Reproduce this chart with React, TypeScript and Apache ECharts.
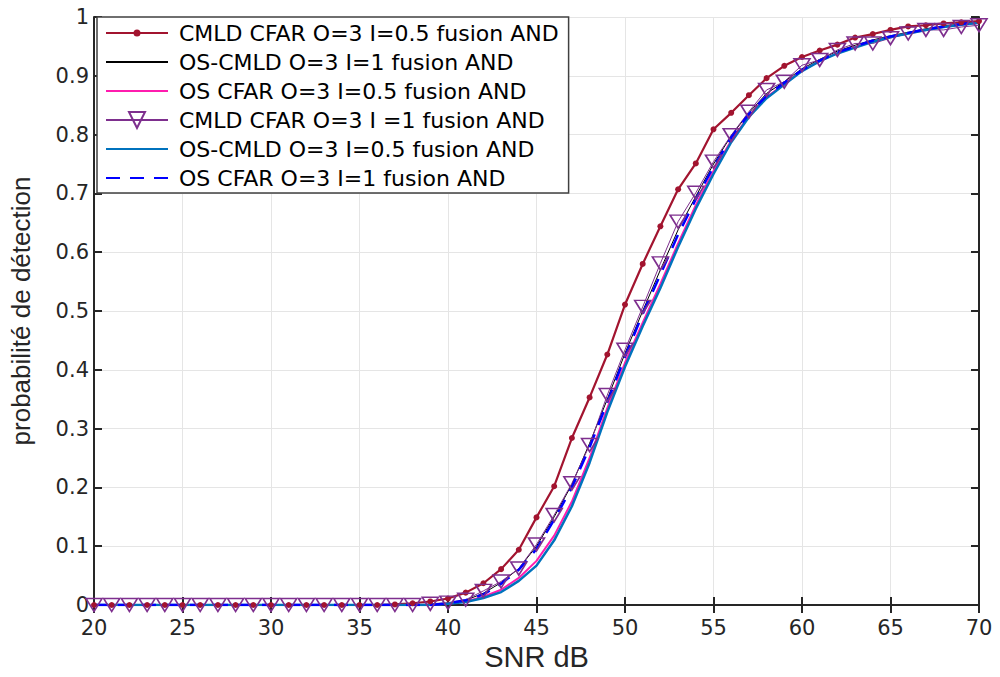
import React, { useEffect, useRef } from "react";
import * as echarts from "echarts";

const snr: number[] = [];
for (let v = 20; v <= 70; v++) snr.push(v);

const zeros = (n: number) => new Array(n).fill(0);

// values from 20 dB .. 70 dB
const cmld05: number[] = [
  ...zeros(17), // 20..36
  0.001, 0.003, 0.006, 0.011, 0.021, 0.037, 0.061, 0.094, 0.149, 0.202,
  0.284, 0.353, 0.426, 0.511, 0.58, 0.644, 0.707, 0.751, 0.809, 0.837,
  0.867, 0.896, 0.917, 0.932, 0.943, 0.953, 0.965, 0.971, 0.978, 0.984,
  0.986, 0.989, 0.991, 0.993,
];
const oscmld1: number[] = [
  ...zeros(20), // 20..39
  0.003, 0.008, 0.02, 0.038, 0.062, 0.1, 0.15, 0.205, 0.275, 0.35,
  0.428, 0.5, 0.57, 0.638, 0.695, 0.75, 0.798, 0.837, 0.87, 0.89,
  0.912, 0.928, 0.942, 0.952, 0.961, 0.968, 0.974, 0.98, 0.985, 0.988,
  0.991,
];
const os05: number[] = [
  ...zeros(20),
  0.002, 0.006, 0.014, 0.026, 0.046, 0.075, 0.118, 0.176, 0.25, 0.335,
  0.412, 0.48, 0.546, 0.615, 0.68, 0.738, 0.79, 0.832, 0.864, 0.886,
  0.909, 0.925, 0.939, 0.949, 0.959, 0.966, 0.972, 0.978, 0.983, 0.987,
  0.99,
];
const cmld1: number[] = [
  ...zeros(19), // 20..38
  0.002, 0.004, 0.009, 0.024, 0.04, 0.062, 0.103, 0.153, 0.207, 0.272,
  0.357, 0.434, 0.507, 0.581, 0.652, 0.701, 0.754, 0.799, 0.839, 0.876,
  0.89, 0.918, 0.927, 0.944, 0.955, 0.955, 0.964, 0.972, 0.978, 0.978,
  0.983, 0.986,
];
const oscmld05: number[] = [
  ...zeros(20),
  0.002, 0.005, 0.012, 0.022, 0.041, 0.067, 0.11, 0.168, 0.242, 0.328,
  0.405, 0.474, 0.539, 0.609, 0.674, 0.733, 0.787, 0.83, 0.862, 0.885,
  0.908, 0.925, 0.938, 0.948, 0.958, 0.966, 0.972, 0.978, 0.983, 0.987,
  0.99,
];
const os1: number[] = [
  ...zeros(20),
  0.003, 0.008, 0.018, 0.036, 0.06, 0.095, 0.145, 0.2, 0.268, 0.345,
  0.422, 0.495, 0.562, 0.63, 0.69, 0.745, 0.795, 0.835, 0.866, 0.888,
  0.91, 0.926, 0.94, 0.95, 0.96, 0.967, 0.973, 0.979, 0.984, 0.988,
  0.991,
];

const names = [
  "CMLD CFAR O=3 I=0.5 fusion AND",
  "OS-CMLD O=3 I=1 fusion AND",
  "OS CFAR O=3 I=0.5 fusion AND",
  "CMLD CFAR O=3 I =1 fusion AND",
  "OS-CMLD O=3 I=0.5 fusion AND",
  "OS CFAR O=3 I=1 fusion AND",
];

const pair = (ys: number[]) => snr.map((x, i) => [x, ys[i]]);

const tickFont = "'DejaVu Sans', sans-serif";
const regular = "'Liberation Sans', Arial, sans-serif";

// legend icon for the line with a dot (62 x 20 box)
const dotLineIcon =
  "path://M0,0 L0.01,0 L0,0.01 Z M0,20 L0.01,20 L0,19.99 Z M62,0 L61.99,0 L62,0.01 Z " +
  "M0,9 L62,9 L62,11 L0,11 Z M34.5,10 A3.5,3.5 0 1,1 27.5,10 A3.5,3.5 0 1,1 34.5,10 Z";

export default function App() {
  const ref = useRef<HTMLDivElement>(null);
  useEffect(() => {
    if (!ref.current) return;
    const chart = echarts.init(ref.current, undefined, { renderer: "svg" });
    const axisLine = { show: true, lineStyle: { color: "#262626", width: 2 } };
    const axisTick = { show: true, inside: true, length: 8, lineStyle: { color: "#262626", width: 2 } };
    const hidden = { color: "rgba(0,0,0,0)", borderWidth: 0 };
    chart.setOption({
      animation: false,
      backgroundColor: "#ffffff",
      grid: { left: 93, top: 17, width: 886, height: 588, containLabel: false },
      legend: {
        orient: "vertical",
        left: 97,
        top: 17,
        padding: [5, 10, 4, 8],
        itemWidth: 62,
        itemHeight: 20,
        itemGap: 7,
        backgroundColor: "#ffffff",
        borderColor: "#404040",
        borderWidth: 1.5,
        borderRadius: 0,
        textStyle: {
          fontSize: 22,
          lineHeight: 20,
          color: "#000",
          fontFamily: tickFont,
          padding: [0, 0, 0, 6],
        },
        data: [
          { name: names[0], icon: dotLineIcon, itemStyle: { color: "#A2142F", borderWidth: 0 } },
          { name: names[1] },
          { name: names[2] },
          { name: names[3] },
          { name: names[4] },
          { name: names[5] },
        ],
      },
      xAxis: [
        {
          type: "value",
          min: 20,
          max: 70,
          interval: 5,
          name: "SNR dB",
          nameLocation: "middle",
          nameGap: 36,
          nameTextStyle: { fontSize: 29, color: "#262626", fontFamily: regular },
          axisLine,
          axisTick,
          axisLabel: { fontSize: 21, color: "#262626", fontFamily: tickFont, margin: 12 },
          splitLine: { show: true, lineStyle: { color: "#e5e5e5", width: 1 } },
        },
        {
          type: "value",
          position: "top",
          min: 20,
          max: 70,
          interval: 5,
          axisLine,
          axisTick,
          axisLabel: { show: false },
          splitLine: { show: false },
        },
      ],
      yAxis: [
        {
          type: "value",
          min: 0,
          max: 1,
          interval: 0.1,
          name: "probabilité de détection",
          nameLocation: "middle",
          nameGap: 60,
          nameTextStyle: { fontSize: 26, color: "#262626", fontFamily: regular },
          axisLine,
          axisTick,
          axisLabel: {
            fontSize: 21,
            color: "#262626",
            fontFamily: tickFont,
            margin: 5,
            formatter: (v: number) => (Math.round(v * 10) / 10).toString(),
          },
          splitLine: { show: true, lineStyle: { color: "#e5e5e5", width: 1 } },
        },
        {
          type: "value",
          position: "right",
          min: 0,
          max: 1,
          interval: 0.1,
          axisLine,
          axisTick,
          axisLabel: { show: false },
          splitLine: { show: false },
        },
      ],
      series: [
        {
          name: names[0],
          type: "line",
          data: pair(cmld05),
          symbol: "circle",
          symbolSize: 6,
          showAllSymbol: true,
          lineStyle: { color: "#A2142F", width: 2.2 },
          itemStyle: { color: "#A2142F" },
        },
        {
          name: names[1],
          type: "line",
          data: pair(oscmld1),
          symbol: "none",
          lineStyle: { color: "#000000", width: 1 },
          itemStyle: hidden,
        },
        {
          name: names[2],
          type: "line",
          data: pair(os05),
          symbol: "none",
          lineStyle: { color: "#FF1CAE", width: 2 },
          itemStyle: hidden,
        },
        {
          name: names[3],
          type: "line",
          data: pair(cmld1),
          symbol: "path://M0,0 L20,0 L10,17 Z",
          symbolSize: [16, 13],
          showAllSymbol: true,
          lineStyle: { color: "#7E2F8E", width: 1 },
          itemStyle: { color: "rgba(255,255,255,0)", borderColor: "#7E2F8E", borderWidth: 1.6 },
        },
        {
          name: names[4],
          type: "line",
          data: pair(oscmld05),
          symbol: "none",
          lineStyle: { color: "#0072BD", width: 2.5 },
          itemStyle: hidden,
        },
        {
          name: names[5],
          type: "line",
          data: pair(os1),
          symbol: "none",
          lineStyle: { color: "#0000FF", width: 2.5, type: [14, 10] },
          itemStyle: hidden,
        },
      ],
    });
    return () => chart.dispose();
  }, []);
  return (
    <div
      ref={ref}
      style={{ position: "fixed", left: 0, top: 0, width: 1000, height: 677 }}
    />
  );
}
